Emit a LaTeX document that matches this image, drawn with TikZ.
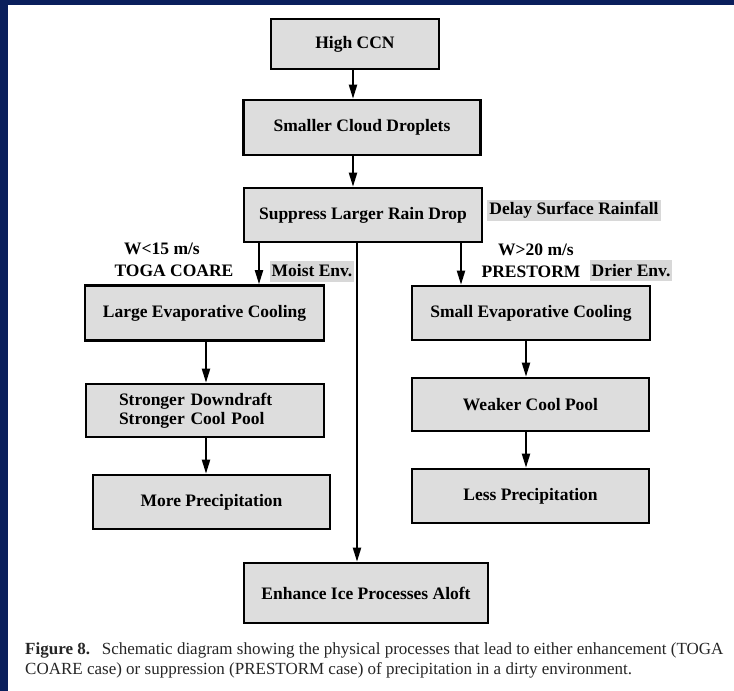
\documentclass[tikz,border=0pt]{standalone}
\usepackage{fontspec}
\setmainfont{Liberation Serif}
\usetikzlibrary{arrows.meta}
\definecolor{navy}{RGB}{10,31,92}
\definecolor{boxgray}{RGB}{221,221,221}
\definecolor{taggray}{RGB}{216,216,216}
\newcommand{\flowfont}{\bfseries\fontsize{17.5}{19}\selectfont}

\begin{document}
\begin{tikzpicture}[x=1pt,y=-1pt,
  box/.style={draw=black,line width=2.6pt,fill=boxgray,inner sep=0pt,font=\flowfont},
  tag/.style={fill=taggray,inner xsep=2pt,inner ysep=0pt,minimum height=21pt,font=\flowfont},
  note/.style={inner sep=0pt,font=\flowfont},
  flow/.style={line width=2pt,-{Triangle[length=14pt,width=8pt]}}]
\fill[navy] (0,0) rectangle (734,691);
\fill[white] (8,5) rectangle (734,691);
\useasboundingbox (0,0) rectangle (734,691);
\draw(355,44) node (ccn) [box,minimum width=168pt,minimum height=50pt] {High CCN};
\draw(362,127.5) node (drops) [box,minimum width=237pt,minimum height=55pt] {Smaller Cloud Droplets};
\draw(363,215) node (suppress) [box,minimum width=238pt,minimum height=54pt] {Suppress Larger Rain Drop};
\draw(204.5,313) node (large) [box,minimum width=239pt,minimum height=55pt] {Large Evaporative Cooling};
\draw(531,313) node (small) [box,minimum width=238pt,minimum height=54pt] {Small Evaporative Cooling};
\draw(205,410.5) node (stronger) [box,minimum width=238pt,minimum height=53pt,align=left,text width=172pt,inner xsep=33pt] {Stronger Downdraft\\Stronger Cool Pool};
\draw(211.5,502) node (more) [box,minimum width=237pt,minimum height=54pt] {More Precipitation};
\draw(530.5,404.5) node (weaker) [box,minimum width=237pt,minimum height=53pt] {Weaker Cool Pool};
\draw(530.5,496) node (less) [box,minimum width=237pt,minimum height=54pt] {Less Precipitation};
\draw(366,593) node (enhance) [box,minimum width=244pt,minimum height=60pt] {Enhance Ice Processes Aloft};
\draw(574,210.5) node (delay) [tag] {Delay Surface Rainfall};
\draw(312,271) node (moist) [tag] {Moist Env.};
\draw(631,270.5) node (drier) [tag] {Drier Env.};
\draw(162,249) node (wslow) [note] {W<15 m/s};
\draw(174,271) node (toga) [note] {TOGA COARE};
\draw(536,250) node (wfast) [note] {W>20 m/s};
\draw(531,272) node (prestorm) [note] {PRESTORM};
\coordinate (ax) at (353,0);
\coordinate (lx) at (259,0);
\coordinate (rx) at (461,0);
\coordinate (cx) at (357,0);
\coordinate (lc) at (206,0);
\coordinate (rc) at (526,0);
\draw[flow] (ccn.south -| ax) -- (drops.north -| ax);
\draw[flow] (drops.south -| ax) -- (suppress.north -| ax);
\draw[flow] (suppress.south -| lx) -- (large.north -| lx);
\draw[flow] (suppress.south -| rx) -- (small.north -| rx);
\draw[flow] (suppress.south -| cx) -- (enhance.north -| cx);
\draw[flow] (large.south -| lc) -- (stronger.north -| lc);
\draw[flow] (stronger.south -| lc) -- (more.north -| lc);
\draw[flow] (small.south -| rc) -- (weaker.north -| rc);
\draw[flow] (weaker.south -| rc) -- (less.north -| rc);
\draw(25,660) node (caption) [anchor=west,inner sep=0pt,align=left,text=black!85,font=\fontsize{17}{20}\selectfont] {{\bfseries Figure 8.}\hspace{0.7em}Schematic diagram showing the physical processes that lead to either enhancement (TOGA\\COARE case) or suppression (PRESTORM case) of precipitation in a dirty environment.};
\end{tikzpicture}
\end{document}
